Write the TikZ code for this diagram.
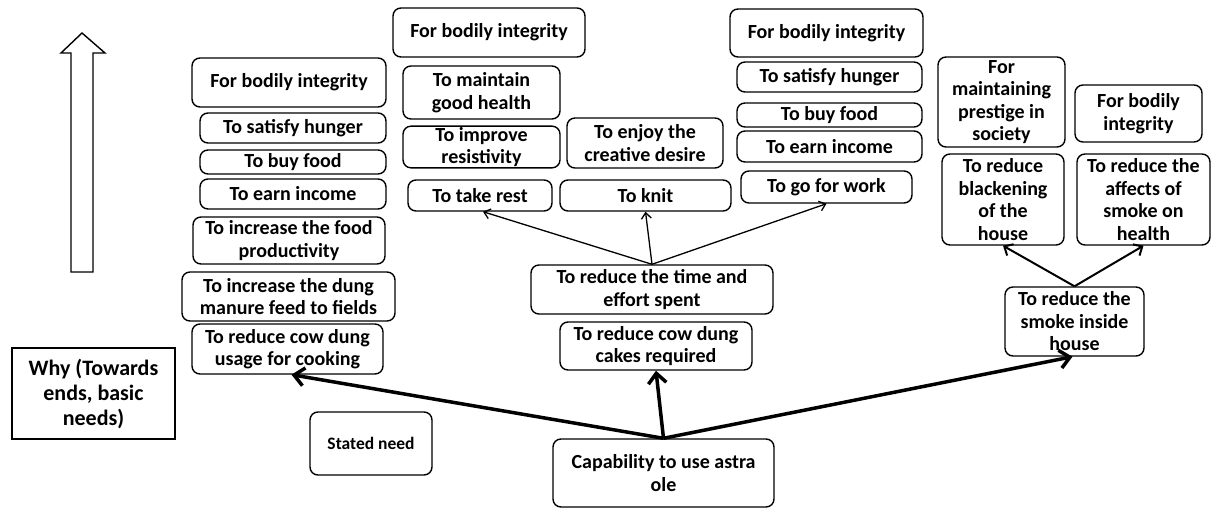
\documentclass[tikz,border=0pt]{standalone}
\usepackage{fontspec}
\setmainfont{Carlito}
\usetikzlibrary{arrows.meta}

\begin{document}
\begin{tikzpicture}[
    x=1pt, y=-1pt,
    needbox/.style={
        draw,
        line width=1.4pt,
        rounded corners=8pt,
        fill=white,
        align=center,
        inner sep=1pt,
        font=\bfseries\fontsize{20}{22.5}\selectfont
    },
    whybox/.style={
        draw,
        line width=1.4pt,
        fill=white,
        align=center,
        inner sep=1pt,
        font=\bfseries\fontsize{22}{25}\selectfont
    },
    thinlink/.style={-{Straight Barb[length=6pt,width=10pt]}, line width=1.3pt},
    midlink/.style={-{Straight Barb[length=7pt,width=13pt]}, line width=2pt},
    thicklink/.style={-{Straight Barb[length=10pt,width=18pt]}, line width=3.5pt}
]
    \useasboundingbox (0,0) rectangle (1213,508);

    % upward arrow and legend
    \draw[line width=1.4pt, fill=white] (82,33) -- (105,53) -- (93,53) -- (93,272)
        -- (71,272) -- (71,53) -- (61,53) -- cycle;
    \node[whybox, minimum width=163, minimum height=91] (why) at (93.5,393.5) {Why (Towards\\ends, basic\\needs)};

    \node[needbox, minimum width=194, minimum height=49] (lbod) at (289,82.5) {For bodily integrity};
    \node[needbox, minimum width=186, minimum height=30] (lhun) at (293,128) {To satisfy hunger};
    \node[needbox, minimum width=186, minimum height=24] (lfood) at (293,162) {To buy food};
    \node[needbox, minimum width=186, minimum height=30] (linc) at (293,194) {To earn income};
    \node[needbox, minimum width=192, minimum height=47] (lprod) at (289,240.5) {To increase the food\\productivity};
    \node[needbox, minimum width=213, minimum height=49] (lman) at (288.5,296.5) {To increase the dung\\manure feed to fields};
    \node[needbox, minimum width=191, minimum height=50] (lcow) at (287.5,349) {To reduce cow dung\\usage for cooking};
    \node[needbox, minimum width=122, minimum height=63, font=\bfseries\fontsize{17.5}{20}\selectfont] (stated) at (371,443.5) {Stated need};

    \node[needbox, minimum width=192, minimum height=49] (mbod) at (489,32.5) {For bodily integrity};
    \node[needbox, minimum width=157, minimum height=53] (mhealth) at (481.5,92.5) {To maintain\\good health};
    \node[needbox, minimum width=157, minimum height=40] (mresist) at (481.5,147) {To improve\\resistivity};
    \node[needbox, minimum width=156, minimum height=50] (mcreate) at (645,143) {To enjoy the\\creative desire};
    \node[needbox, minimum width=144, minimum height=31] (mrest) at (480,195.5) {To take rest};
    \node[needbox, minimum width=171, minimum height=31] (mknit) at (645.5,195.5) {To knit};
    \node[needbox, minimum width=242, minimum height=49] (mtime) at (652,289.5) {To reduce the time and\\effort spent};
    \node[needbox, minimum width=192, minimum height=48] (mcakes) at (656,346) {To reduce cow dung\\cakes required};
    \node[needbox, minimum width=221, minimum height=68] (cap) at (663.5,473) {Capability to use astra\\ole};

    \node[needbox, minimum width=193, minimum height=48] (rbod) at (826.5,33) {For bodily integrity};
    \node[needbox, minimum width=185, minimum height=30] (rhun) at (829.5,77) {To satisfy hunger};
    \node[needbox, minimum width=185, minimum height=24] (rfood) at (829.5,115) {To buy food};
    \node[needbox, minimum width=185, minimum height=31] (rinc) at (829.5,146.5) {To earn income};
    \node[needbox, minimum width=171, minimum height=32] (rwork) at (826.5,187) {To go for work};

    \node[needbox, minimum width=127, minimum height=90] (prestige) at (1001.5,102) {For\\maintaining\\prestige in\\society};
    \node[needbox, minimum width=127, minimum height=57] (sbod) at (1138.5,113.5) {For bodily\\integrity};
    \node[needbox, minimum width=122, minimum height=91] (black) at (1003,199.5) {To reduce\\blackening\\of the\\house};
    \node[needbox, minimum width=133, minimum height=91] (affect) at (1143.5,199.5) {To reduce the\\affects of\\smoke on\\health};
    \node[needbox, minimum width=139, minimum height=69] (smoke) at (1074.5,321.5) {To reduce the\\smoke inside\\house};

    \draw[thicklink] (cap.north) -- ([xshift=4pt]lcow.south);
    \draw[thicklink] (cap.north) -- (mcakes.south);
    \draw[thicklink] (cap.north) -- ([xshift=-2pt]smoke.south);
    \draw[thinlink] (mtime.north) -- ([xshift=3pt]mrest.south);
    \draw[thinlink] (mtime.north) -- (mknit.south);
    \draw[thinlink] (mtime.north) -- (rwork.south);
    \draw[midlink] (smoke.north) -- (black.south);
    \draw[midlink] (smoke.north) -- (affect.south);
\end{tikzpicture}
\end{document}
